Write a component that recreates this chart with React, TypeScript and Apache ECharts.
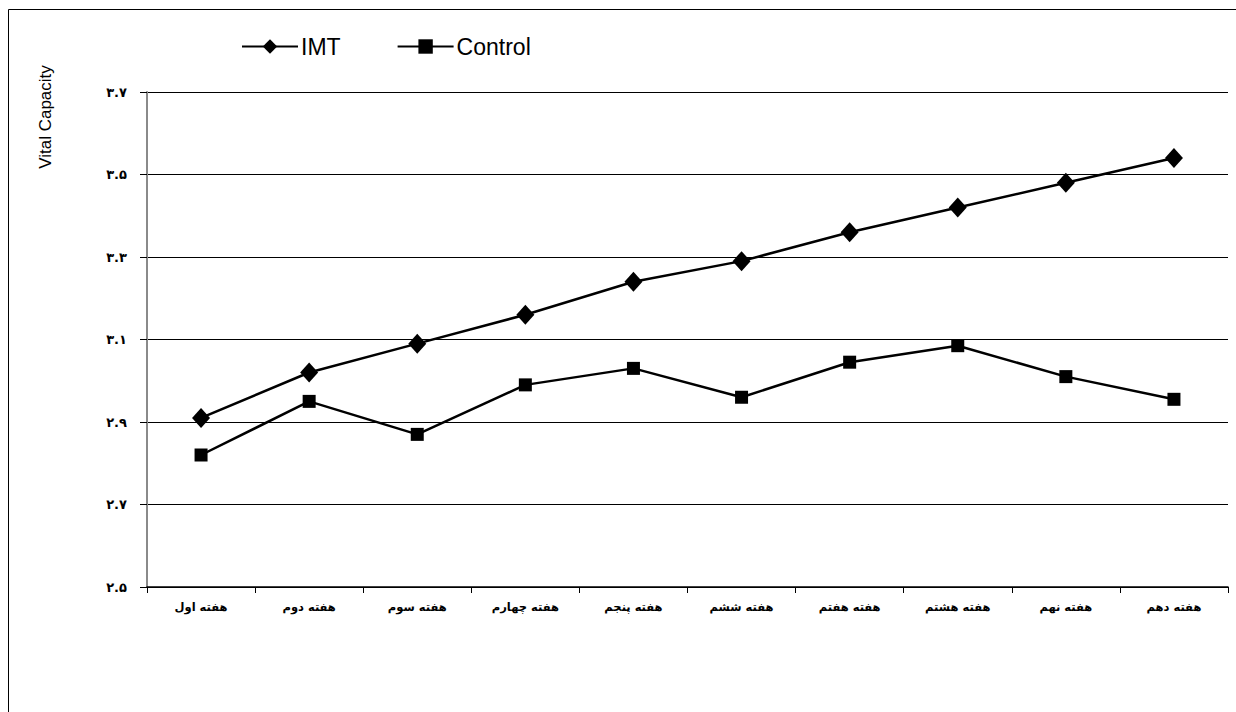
import React, { useEffect, useRef } from "react";
import * as echarts from "echarts";

const categories = [
  "هفته اول",
  "هفته دوم",
  "هفته سوم",
  "هفته چهارم",
  "هفته پنجم",
  "هفته ششم",
  "هفته هفتم",
  "هفته هشتم",
  "هفته نهم",
  "هفته دهم",
];
const imt = [2.91, 3.02, 3.09, 3.16, 3.24, 3.29, 3.36, 3.42, 3.48, 3.54];
const control = [2.82, 2.95, 2.87, 2.99, 3.03, 2.96, 3.045, 3.085, 3.01, 2.955];
const Y_MIN = 2.5;
const Y_MAX = 3.7;
const Y_STEP = 0.2;
const yAxisTitle = "Vital Capacity";

const FA_DIGITS = "۰۱۲۳۴۵۶۷۸۹";
const toFa = (s: string) => s.replace(/[0-9]/g, (d) => FA_DIGITS[Number(d)]);
const shift = (arr: number[]) => arr.map((v) => +(v - Y_MIN).toFixed(4));

export default function App() {
  const ref = useRef<HTMLDivElement>(null);
  useEffect(() => {
    if (!ref.current) return;
    const chart = echarts.init(ref.current, null, { renderer: "svg" });
    chart.setOption({
      animation: false,
      backgroundColor: "#ffffff",
      grid: { left: 147, right: 8, top: 92, bottom: 125, containLabel: false },
      legend: {
        left: 236,
        top: 30,
        itemWidth: 56,
        itemHeight: 18,
        itemGap: 56,
        textStyle: {
          fontFamily: "'Liberation Sans', Arial, sans-serif",
          fontSize: 23,
          color: "#000",
          padding: [0, 0, 0, -2],
        },
        data: ["IMT", "Control"],
      },
      xAxis: {
        type: "category",
        data: categories,
        boundaryGap: true,
        axisLine: { lineStyle: { color: "#000", width: 1.5 } },
        axisTick: { show: true, length: 6, lineStyle: { color: "#000" } },
        axisLabel: {
          margin: 14,
          fontFamily: "'DejaVu Sans', sans-serif",
          fontSize: 11.5,
          fontWeight: "bold",
          color: "#000",
          interval: 0,
        },
        splitLine: { show: false },
      },
      yAxis: {
        type: "value",
        min: 0,
        max: +(Y_MAX - Y_MIN).toFixed(4),
        interval: Y_STEP,
        axisLine: { show: true, lineStyle: { color: "#8a8a8a", width: 2 } },
        axisTick: { show: true, length: 7, lineStyle: { color: "#000" } },
        axisLabel: {
          margin: 20,
          fontFamily: "'DejaVu Sans', sans-serif",
          fontSize: 13,
          fontWeight: "bold",
          color: "#000",
          formatter: (v: number) => toFa((v + Y_MIN).toFixed(1)),
        },
        splitLine: { show: true, lineStyle: { color: "#000", width: 1 } },
      },
      graphic: [
        {
          type: "rect",
          shape: { x: 8.5, y: 9.5, width: 1240, height: 720 },
          style: { fill: "none", stroke: "#000", lineWidth: 1 },
          silent: true,
        },
        {
          type: "text",
          x: 45,
          y: 117,
          rotation: Math.PI / 2,
          style: {
            text: yAxisTitle,
            fontFamily: "'Liberation Sans', Arial, sans-serif",
            fontSize: 17,
            fill: "#000",
            align: "center",
            verticalAlign: "middle",
          },
        },
      ],
      series: [
        {
          name: "IMT",
          type: "line",
          data: shift(imt),
          symbol: "diamond",
          symbolSize: [18, 20],
          itemStyle: { color: "#000" },
          lineStyle: { color: "#000", width: 2.5 },
        },
        {
          name: "Control",
          type: "line",
          data: shift(control),
          symbol: "rect",
          symbolSize: 13,
          itemStyle: { color: "#000" },
          lineStyle: { color: "#000", width: 2.5 },
        },
      ],
    });
    return () => chart.dispose();
  }, []);
  return (
    <div
      ref={ref}
      style={{ position: "fixed", left: 0, top: 0, width: 1236, height: 712, background: "#fff" }}
    />
  );
}
